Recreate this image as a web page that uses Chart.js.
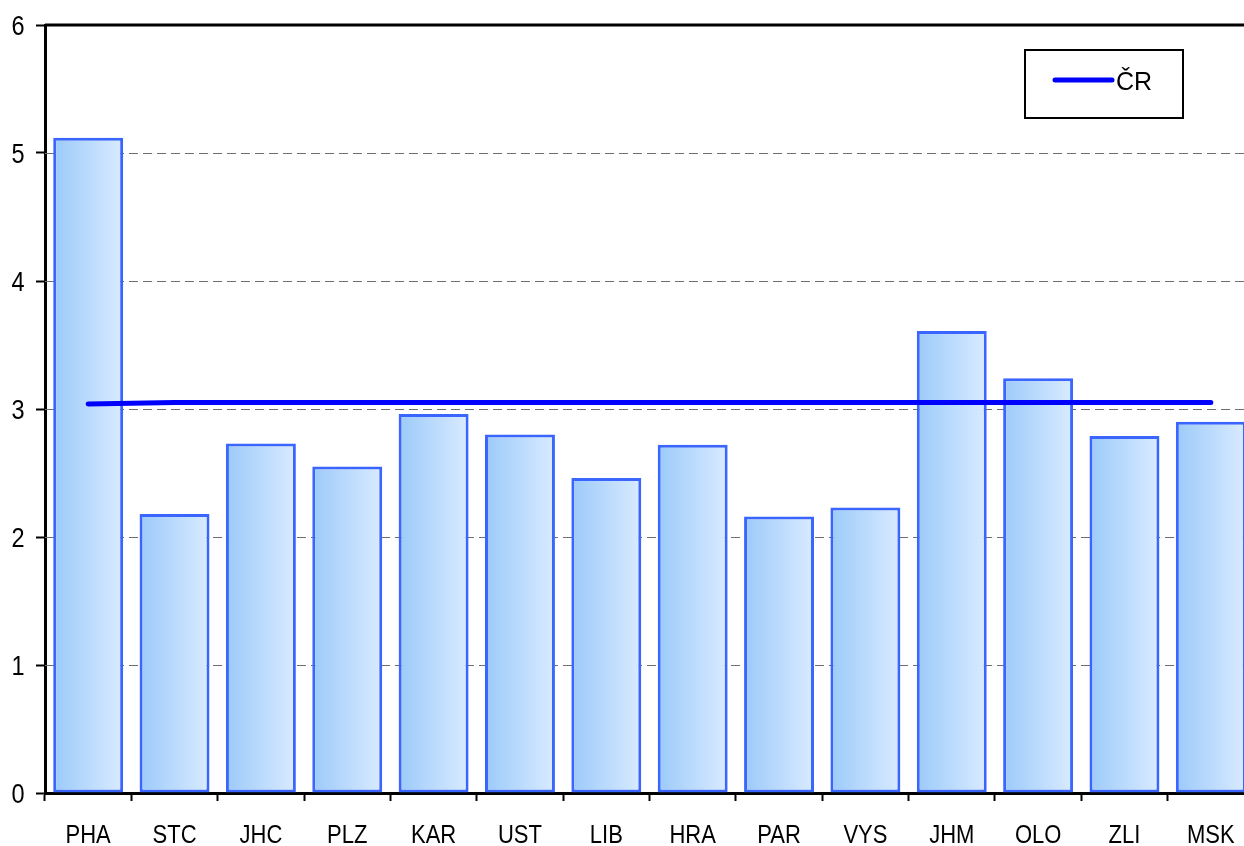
<!DOCTYPE html>
<html>
<head>
<meta charset="utf-8">
<script src="https://cdn.jsdelivr.net/npm/chart.js@4/dist/chart.umd.min.js"></script>
<style>
html,body{margin:0;padding:0;overflow:hidden;background:#fff;width:1244px;height:846px;}
canvas{display:block;}
</style>
</head>
<body>
<canvas id="c" width="1262" height="846"></canvas>
<script>
const categories = ["PHA","STC","JHC","PLZ","KAR","UST","LIB","HRA","PAR","VYS","JHM","OLO","ZLI","MSK"];
const regionValues = [5.12,2.18,2.73,2.55,2.96,2.80,2.46,2.72,2.16,2.23,3.61,3.24,2.79,2.90];
const crValues = [3.04,3.05,3.05,3.05,3.05,3.05,3.05,3.05,3.05,3.05,3.05,3.05,3.05,3.05];
const yTicks = [0,1,2,3,4,5,6];
const lineLabel = "ČR";

const BAR_PCT = 0.81;
const FONT = '"Liberation Sans", Arial, sans-serif';

function barGradient(ctx) {
  const chart = ctx.chart;
  const area = chart.chartArea;
  if (!area || ctx.dataIndex === undefined) return '#b8dafc';
  const xs = chart.scales.x;
  const cx = xs.getPixelForValue(ctx.dataIndex);
  const w = (area.width / categories.length) * BAR_PCT;
  const g = chart.ctx.createLinearGradient(cx - w/2, 0, cx + w/2, 0);
  g.addColorStop(0, '#9ccafa');
  g.addColorStop(1, '#d9ebff');
  return g;
}

const gridPlugin = {
  id: 'gridPlugin',
  beforeDatasetsDraw(chart) {
    const c = chart.ctx, a = chart.chartArea, ys = chart.scales.y;
    c.save();
    yTicks.forEach(v => {
      if (v === 0) return;
      const y = Math.round(ys.getPixelForValue(v)) + 0.5;
      c.beginPath();
      if (v === yTicks[yTicks.length-1]) {
        c.setLineDash([]);
        c.strokeStyle = '#000';
        c.lineWidth = 3;
        c.moveTo(a.left, y - 0.5);
        c.lineTo(a.right, y - 0.5);
      } else {
        c.setLineDash([9,5]);
        c.strokeStyle = '#6e6e6e';
        c.lineWidth = 1;
        c.moveTo(a.left, y);
        c.lineTo(a.right, y);
      }
      c.stroke();
    });
    c.restore();
  }
};

// tick labels drawn with a slightly condensed face, positioned by the library's scales
const labelPlugin = {
  id: 'labelPlugin',
  afterDraw(chart) {
    const c = chart.ctx, xs = chart.scales.x, ys = chart.scales.y;
    c.save();
    c.fillStyle = '#000';
    c.textBaseline = 'alphabetic';
    c.font = '25px ' + FONT;
    c.textAlign = 'center';
    const kx = 0.88;
    categories.forEach((lab, i) => {
      const x = xs.getPixelForValue(i);
      c.save();
      c.translate(x, xs.top + 50);
      c.scale(kx, 1);
      c.fillText(lab, 0, 0);
      c.restore();
    });
    c.font = '28px ' + FONT;
    c.textAlign = 'right';
    const ky = 0.84;
    yTicks.forEach(v => {
      const y = ys.getPixelForValue(v);
      c.save();
      c.translate(ys.left + 24.5, y + 10);
      c.scale(ky, 1);
      c.fillText(String(v), 0, 0);
      c.restore();
    });
    c.restore();
  }
};

const legendPlugin = {
  id: 'legendPlugin',
  afterDraw(chart) {
    const c = chart.ctx;
    c.save();
    c.strokeStyle = '#000';
    c.lineWidth = 2;
    c.strokeRect(1025, 50, 158, 68);
    c.strokeStyle = '#0000ff';
    c.lineWidth = 5;
    c.lineCap = 'round';
    c.beginPath();
    c.moveTo(1055, 80);
    c.lineTo(1112, 80);
    c.stroke();
    c.fillStyle = '#000';
    c.font = '25px ' + FONT;
    c.textBaseline = 'alphabetic';
    c.fillText(chart.data.datasets[0].label, 1116, 90);
    c.restore();
  }
};

new Chart(document.getElementById('c'), {
  data: {
    labels: categories,
    datasets: [
      {
        type: 'line',
        label: lineLabel,
        data: crValues,
        borderColor: '#0000ff',
        borderWidth: 5,
        borderCapStyle: 'round',
        pointRadius: 0,
        tension: 0,
        fill: false,
        order: 0
      },
      {
        type: 'bar',
        label: 'kraje',
        data: regionValues,
        backgroundColor: barGradient,
        borderColor: '#3a66ff',
        borderWidth: 3,
        borderSkipped: false,
        barPercentage: BAR_PCT,
        categoryPercentage: 1,
        order: 1
      }
    ]
  },
  options: {
    responsive: false,
    animation: false,
    devicePixelRatio: 1,
    layout: { padding: { top: 25, right: 8, left: 0, bottom: 0 } },
    plugins: { legend: { display: false }, tooltip: { enabled: false } },
    scales: {
      x: {
        type: 'category',
        offset: true,
        grid: { offset: true, drawOnChartArea: false, drawTicks: true, tickLength: 8, tickColor: '#000', tickWidth: 2 },
        border: { display: true, color: '#000', width: 3 },
        ticks: { display: false, autoSkip: false },
        afterFit(s) { s.height = 53; }
      },
      y: {
        min: 0, max: 6,
        afterBuildTicks(s) { s.ticks = yTicks.map(v => ({ value: v })); },
        grid: { drawOnChartArea: false, drawTicks: true, tickLength: 9, tickColor: '#000', tickWidth: 2 },
        border: { display: true, color: '#000', width: 3 },
        ticks: { display: false },
        afterFit(s) { s.width = 45; }
      }
    }
  },
  plugins: [gridPlugin, labelPlugin, legendPlugin]
});
</script>
</body>
</html>
